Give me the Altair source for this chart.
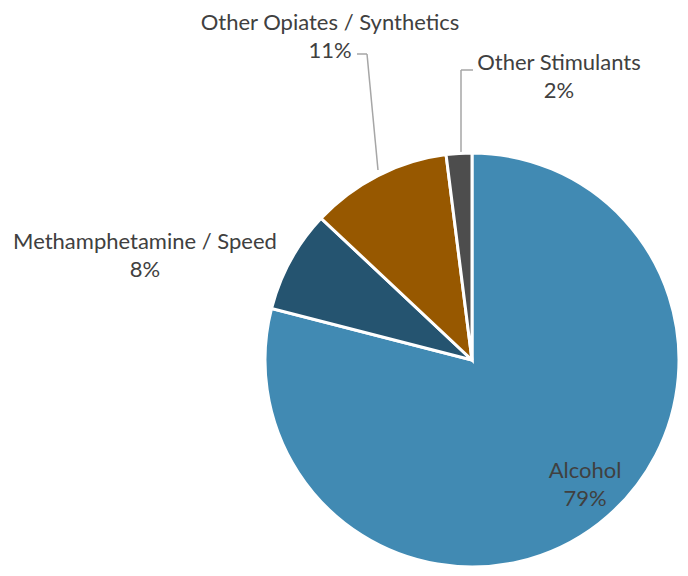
import altair as alt
import pandas as pd

# ---- data ----
categories = ["Alcohol", "Methamphetamine / Speed", "Other Opiates / Synthetics", "Other Stimulants"]
values = [79, 8, 11, 2]
colors = ["#418AB3", "#255470", "#975800", "#4D4D4D"]

# ---- layout (chart pixel coords; page = chart + 8px margin) ----
center = (464, 352)
outer_r = 207
label_pos = [(577, 463), (137, 234), (322, 15), (551, 55)]
line_gap = 28
leader_segments = [
    # (x, y, x2, y2)
    (349, 46, 359, 46),
    (359, 46, 370, 162),
    (453, 62, 465, 62),
    (453, 62, 453, 146),
]

df = pd.DataFrame({"category": categories, "value": values, "idx": range(len(categories))})

pie = alt.Chart(df).mark_arc(outerRadius=outer_r, stroke="white", strokeWidth=3).encode(
    theta=alt.Theta("value:Q", stack=True),
    order=alt.Order("idx:Q"),
    color=alt.Color("category:N", scale=alt.Scale(domain=categories, range=colors), legend=None),
    x=alt.value(center[0]),
    y=alt.value(center[1]),
)

rows = []
for c, v, (lx, ly) in zip(categories, values, label_pos):
    rows.append({"t": c, "lx": lx, "ly": ly})
    rows.append({"t": f"{v}%", "lx": lx, "ly": ly + line_gap})
ldf = pd.DataFrame(rows)

labels = alt.Chart(ldf).mark_text(
    font="Lato", fontSize=22, color="#404040", align="center", baseline="middle"
).encode(
    x=alt.X("lx:Q", scale=None),
    y=alt.Y("ly:Q", scale=None),
    text="t:N",
)

sdf = pd.DataFrame(leader_segments, columns=["x", "y", "x2", "y2"])
leaders = alt.Chart(sdf).mark_rule(color="#A6A6A6", strokeWidth=1.5).encode(
    x=alt.X("x:Q", scale=None),
    y=alt.Y("y:Q", scale=None),
    x2="x2:Q",
    y2="y2:Q",
)

chart = alt.layer(leaders, pie, labels).properties(
    width=672, height=558, padding=0, autosize=alt.AutoSizeParams(type="none")
).configure_view(stroke=None)

chart.save("out.html", embed_options={"renderer": "svg", "actions": False})
